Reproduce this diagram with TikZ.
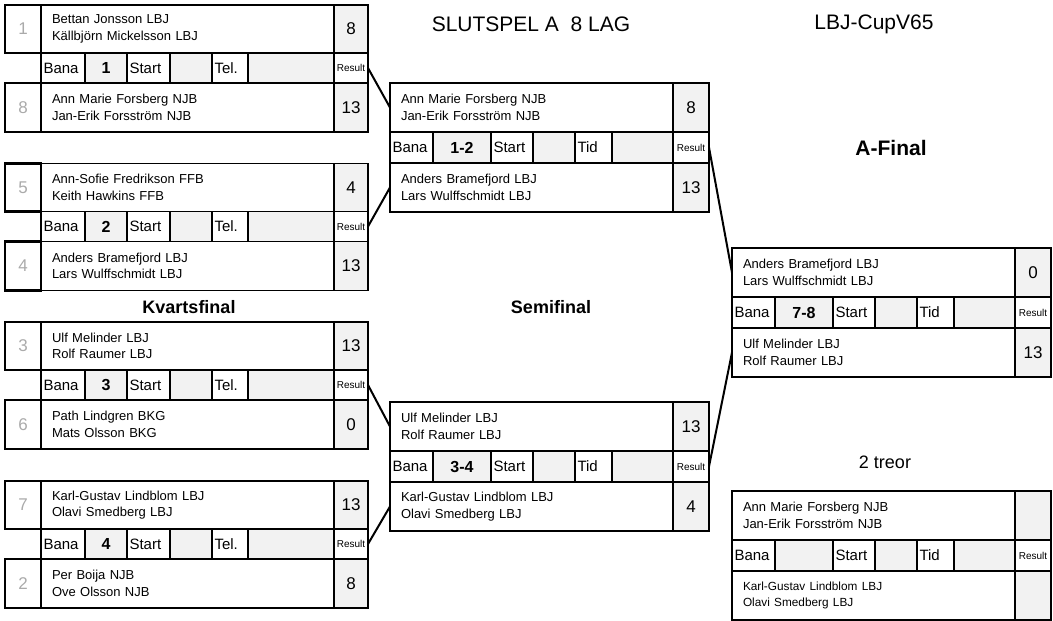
\documentclass[tikz,border=0pt]{standalone}
\usepackage{fontspec}
\setmainfont{Liberation Sans}
\usetikzlibrary{positioning}
\definecolor{cellgray}{RGB}{242,242,242}
\definecolor{seedgray}{RGB}{170,170,170}

\newcommand{\kvart}[9]{%
 \node[lag, minimum height=48pt, text width=271pt, anchor=north west] (#1a) at (41,#2) {#4};
 \node[seed, minimum height=48pt] (#1an) [left=0pt of #1a] {#3};
 \node[res, minimum width=34pt, minimum height=48pt] (#1as) [right=0pt of #1a] {#5};
 \node[ord, text width=39pt, anchor=north west] (#1m1) at (#1a.south west) {Bana};
 \node[tal, minimum width=42pt] (#1m2) [right=0pt of #1m1] {#6};
 \node[ord, text width=38pt] (#1m3) [right=0pt of #1m2] {Start};
 \node[tom, minimum width=42pt] (#1m4) [right=0pt of #1m3] {};
 \node[ord, text width=31pt] (#1m5) [right=0pt of #1m4] {Tel.};
 \node[tom, minimum width=86pt] (#1m6) [right=0pt of #1m5] {};
 \node[rut, minimum width=34pt] (#1r) [right=0pt of #1m6] {Result};
 \node[lag, minimum height=49pt, text width=271pt, anchor=north west] (#1b) at (#1m1.south west) {#8};
 \node[seed, minimum height=49pt] (#1bn) [left=0pt of #1b] {#7};
 \node[res, minimum width=34pt, minimum height=49pt] (#1bs) [right=0pt of #1b] {#9};
}

\newcommand{\slut}[8]{%
 \begin{scope}[cell/.append style={minimum height=31pt}]
 \node[lag, minimum height=49pt, text width=261pt, anchor=north west] (#1a) at (#2,#3) {#4};
 \node[res, minimum width=36pt, minimum height=49pt] (#1as) [right=0pt of #1a] {#5};
 \node[ord, text width=38pt, anchor=north west] (#1m1) at (#1a.south west) {Bana};
 \node[tal, minimum width=58pt] (#1m2) [right=0pt of #1m1] {#6};
 \node[ord, text width=37pt] (#1m3) [right=0pt of #1m2] {Start};
 \node[tom, minimum width=42pt] (#1m4) [right=0pt of #1m3] {};
 \node[ord, text width=32pt] (#1m5) [right=0pt of #1m4] {Tid};
 \node[tom, minimum width=61pt] (#1m6) [right=0pt of #1m5] {};
 \node[rut, minimum width=36pt] (#1r) [right=0pt of #1m6] {Result};
 \node[lag, minimum height=49pt, text width=261pt, anchor=north west] (#1b) at (#1m1.south west) {#7};
 \node[res, minimum width=36pt, minimum height=49pt] (#1bs) [right=0pt of #1b] {#8};
 \end{scope}
}

\begin{document}
\begin{tikzpicture}[x=1pt, y=-1pt,
    cell/.style={draw, line width=1.1pt, inner sep=0pt, outer sep=0pt, minimum height=30pt,
                 font=\fontsize{15}{17}\selectfont},
    ord/.style={cell, inner xsep=2.5pt, align=left},
    tal/.style={cell, fill=cellgray, font=\bfseries\fontsize{16}{18}\selectfont},
    tom/.style={cell, fill=cellgray},
    rut/.style={cell, font=\fontsize{10}{12}\selectfont},
    lag/.style={draw, line width=1.7pt, outer sep=0pt, inner xsep=11pt, inner ysep=0pt,
                align=left, font=\fontsize{13}{16.5}\selectfont},
    res/.style={draw, fill=cellgray, line width=1.7pt, outer sep=0pt, inner sep=0pt,
                font=\fontsize{17}{19}\selectfont},
    seed/.style={draw, line width=2.8pt, outer sep=0pt, inner sep=0pt, minimum width=36pt,
                 text=seedgray, font=\fontsize{17}{19}\selectfont},
    led/.style={line width=2pt},
    titel/.style={font=\fontsize{21}{25}\selectfont},
    rubrik/.style={font=\bfseries\fontsize{18}{22}\selectfont}]

\useasboundingbox (0,0) rectangle (1053,621);

\node[titel] (slut) at (531,24) {SLUTSPEL A\ \ 8 LAG};
\node[titel] (cup) at (874,24) {LBJ-CupV65};
\node[rubrik] (kvart) at (189,307) {Kvartsfinal};
\node[rubrik] (semi) at (551,307) {Semifinal};
\node[rubrik, font=\bfseries\fontsize{21}{24}\selectfont] (afinal) at (891,148) {A-Final};
\node[titel, font=\fontsize{18}{22}\selectfont] (treor) at (885,462) {2 treor};

\kvart{q1}{5}{1}{Bettan Jonsson LBJ\\Källbjörn Mickelsson LBJ}{8}{1}{8}{Ann Marie Forsberg NJB\\Jan-Erik Forsström NJB}{13}
\kvart{q2}{163.5}{5}{Ann-Sofie Fredrikson FFB\\Keith Hawkins FFB}{4}{2}{4}{Anders Bramefjord LBJ\\Lars Wulffschmidt LBJ}{13}
\kvart{q3}{322}{3}{Ulf Melinder LBJ\\Rolf Raumer LBJ}{13}{3}{6}{Path Lindgren BKG\\Mats Olsson BKG}{0}
\kvart{q4}{481}{7}{Karl-Gustav Lindblom LBJ\\Olavi Smedberg LBJ}{13}{4}{2}{Per Boija NJB\\Ove Olsson NJB}{8}

\slut{s1}{390}{83}{Ann Marie Forsberg NJB\\Jan-Erik Forsström NJB}{8}{1-2}{Anders Bramefjord LBJ\\Lars Wulffschmidt LBJ}{13}
\slut{s2}{390}{402}{Ulf Melinder LBJ\\Rolf Raumer LBJ}{13}{3-4}{Karl-Gustav Lindblom LBJ\\Olavi Smedberg LBJ}{4}

\slut{f1}{732}{248}{Anders Bramefjord LBJ\\Lars Wulffschmidt LBJ}{0}{7-8}{Ulf Melinder LBJ\\Rolf Raumer LBJ}{13}
\slut{f2}{732}{491}{Ann Marie Forsberg NJB\\Jan-Erik Forsström NJB}{}{}{\fontsize{11.8}{15.5}\selectfont Karl-Gustav Lindblom LBJ\\Olavi Smedberg LBJ}{}

\draw[led] (q1r.east) -- (s1a.west);
\draw[led] (q2r.east) -- (s1b.west);
\draw[led] (q3r.east) -- (s2a.west);
\draw[led] (q4r.east) -- (s2b.west);
\draw[led] (s1r.east) -- (f1a.west);
\draw[led] (s2r.east) -- (f1b.west);
\end{tikzpicture}
\end{document}
